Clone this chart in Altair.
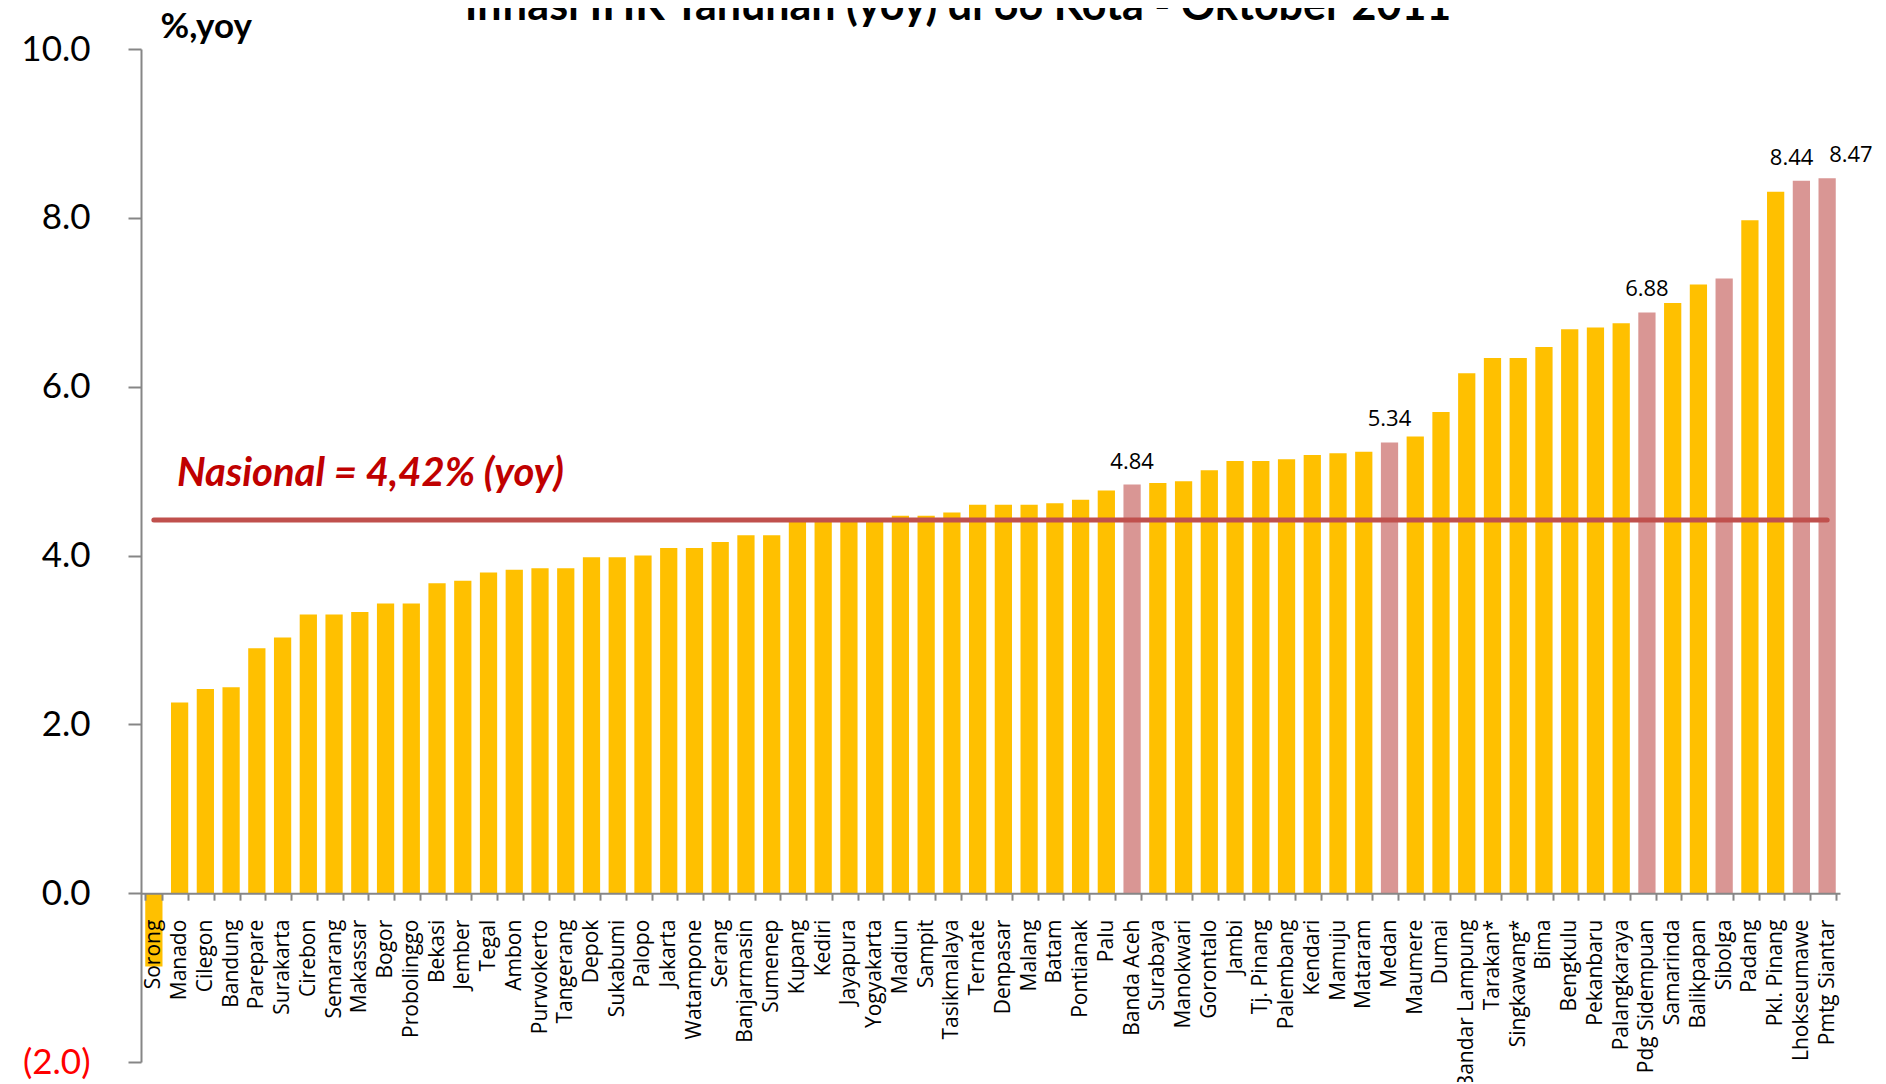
import altair as alt
import pandas as pd

cities = ["Sorong", "Manado", "Cilegon", "Bandung", "Parepare", "Surakarta", "Cirebon", "Semarang",
          "Makassar", "Bogor", "Probolinggo", "Bekasi", "Jember", "Tegal", "Ambon", "Purwokerto",
          "Tangerang", "Depok", "Sukabumi", "Palopo", "Jakarta", "Watampone", "Serang", "Banjarmasin",
          "Sumenep", "Kupang", "Kediri", "Jayapura", "Yogyakarta", "Madiun", "Sampit", "Tasikmalaya",
          "Ternate", "Denpasar", "Malang", "Batam", "Pontianak", "Palu", "Banda Aceh", "Surabaya",
          "Manokwari", "Gorontalo", "Jambi", "Tj. Pinang", "Palembang", "Kendari", "Mamuju", "Mataram",
          "Medan", "Maumere", "Dumai", "Bandar Lampung", "Tarakan*", "Singkawang*", "Bima", "Bengkulu",
          "Pekanbaru", "Palangkaraya", "Pdg Sidempuan", "Samarinda", "Balikpapan", "Sibolga", "Padang",
          "Pkl. Pinang", "Lhokseumawe", "Pmtg Siantar"]
values = [-0.87, 2.26, 2.42, 2.44, 2.90, 3.03, 3.30, 3.30,
          3.33, 3.43, 3.43, 3.67, 3.70, 3.80, 3.83, 3.85,
          3.85, 3.98, 3.98, 4.00, 4.09, 4.09, 4.16, 4.24,
          4.24, 4.40, 4.41, 4.42, 4.43, 4.47, 4.47, 4.51,
          4.60, 4.60, 4.60, 4.62, 4.66, 4.77, 4.84, 4.86,
          4.88, 5.01, 5.12, 5.12, 5.14, 5.19, 5.21, 5.23,
          5.34, 5.41, 5.70, 6.16, 6.34, 6.34, 6.47, 6.68,
          6.70, 6.75, 6.88, 6.99, 7.21, 7.28, 7.97,
          8.31, 8.44, 8.47]
highlight = ["Banda Aceh", "Medan", "Pdg Sidempuan", "Sibolga", "Lhokseumawe", "Pmtg Siantar"]
labelled_center = ["Banda Aceh", "Medan", "Pdg Sidempuan"]
labelled_left = ["Lhokseumawe"]
labelled_right = ["Pmtg Siantar"]
nasional = 4.42
title_text = "Inflasi IHK Tahunan (yoy) di 66 Kota - Oktober 2011"
y_ticks = [-2, 0, 2, 4, 6, 8, 10]

df = pd.DataFrame({"kota": cities, "inflasi": values})
df["kelompok"] = ["Sorot" if c in highlight else "Lainnya" for c in cities]
df["nasional"] = nasional

W, H = 1699, 1013
GRAY = "#868686"

x_enc = alt.X(
    "kota:N", sort=cities, title=None,
    scale=alt.Scale(paddingInner=0.33, paddingOuter=0.165),
    axis=alt.Axis(
        offset=-H * 2 / 12, labelAngle=-90, labelFont="Open Sans", labelFontSize=21,
        labelColor="#000000", labelPadding=19, labelOverlap=False, labelLimit=400,
        domainColor=GRAY, domainWidth=2, tickColor=GRAY, tickWidth=2, tickSize=7,
        tickBand="extent", grid=False, zindex=1,
    ),
)
y_enc = alt.Y(
    "inflasi:Q",
    scale=alt.Scale(domain=[-2, 10], nice=False, zero=False),
    axis=alt.Axis(
        values=y_ticks, grid=False,
        title="%,yoy", titleAngle=0, titleX=19, titleY=-12, titleAlign="left",
        titleBaseline="alphabetic", titleFont="Lato", titleFontSize=35,
        titleFontWeight="bold", titleColor="#000000",
        labelFont="Lato", labelFontSize=35, labelPadding=38,
        labelColor={"condition": {"test": "datum.value < 0", "value": "#FF0000"}, "value": "#000000"},
        labelExpr="datum.value < 0 ? '(' + format(-datum.value, '.1f') + ')' : format(datum.value, '.1f')",
        domainColor=GRAY, domainWidth=2, tickColor=GRAY, tickWidth=2, tickSize=13,
    ),
)

base = alt.Chart(df)

bars = base.mark_bar().encode(
    x=x_enc,
    y=y_enc,
    color=alt.Color("kelompok:N", scale=alt.Scale(domain=["Lainnya", "Sorot"],
                                                  range=["#FFC000", "#D99694"]), legend=None),
)

line = base.mark_line(color="#C0504D", strokeWidth=5, strokeCap="round").encode(
    x=alt.X("kota:N", sort=cities),
    y=alt.Y("nasional:Q"),
)

def value_labels(names, align, dx):
    return base.transform_filter(alt.FieldOneOfPredicate(field="kota", oneOf=names)).mark_text(
        font="Open Sans", fontSize=22, color="#000000", baseline="alphabetic",
        align=align, dx=dx, dy=-16,
    ).encode(
        x=alt.X("kota:N", sort=cities),
        y=alt.Y("inflasi:Q"),
        text=alt.Text("inflasi:Q", format=".2f"),
    )

lab_c = value_labels(labelled_center, "center", 0)
lab_l = value_labels(labelled_left, "right", 12)
lab_r = value_labels(labelled_right, "left", 2)

nas_df = pd.DataFrame({
    "t": ["Nasional = " + f"{nasional:.2f}".replace(".", ",") + "% (yoy)"],
    "v": [nasional],
})
nas_text = alt.Chart(nas_df).mark_text(
    font="Lato", fontSize=40, fontWeight="bold", fontStyle="italic", color="#C00000",
    align="left", baseline="middle", dy=-46,
).encode(x=alt.value(36), y=alt.Y("v:Q"), text="t:N")

title_df = pd.DataFrame({"t": [title_text]})
title = alt.Chart(title_df).mark_text(
    font="Lato", fontSize=43, fontWeight="bold", color="#000000",
    align="center", baseline="alphabetic",
).encode(x=alt.value(817), y=alt.value(-29), text="t:N")

chart = alt.layer(bars, line, lab_c, lab_l, lab_r, nas_text, title).properties(
    width=W, height=H,
    autosize=alt.AutoSizeParams(type="none"),
    padding={"left": 133, "top": 41, "right": 34, "bottom": 20},
).configure_view(stroke=None)

chart.save("out.html", embed_options={"renderer": "svg", "actions": False})
